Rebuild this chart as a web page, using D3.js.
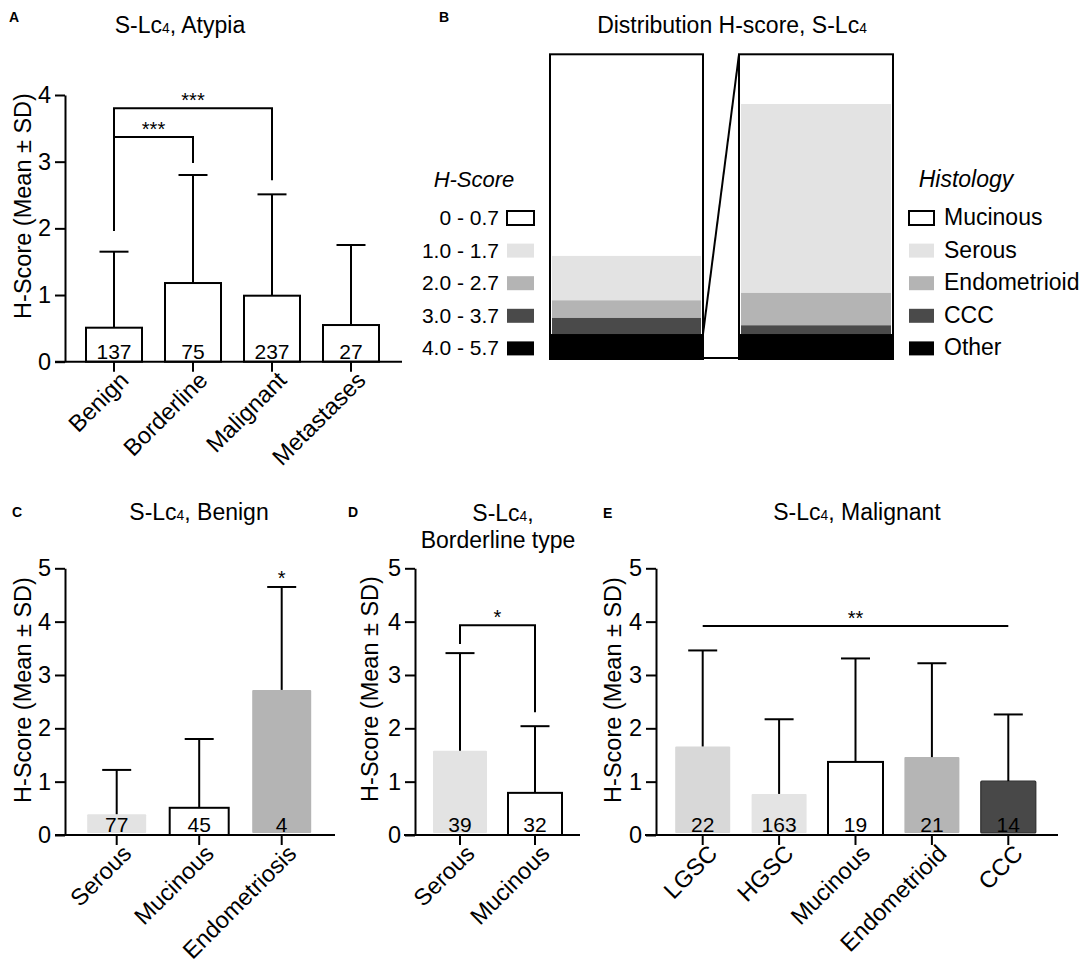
<!DOCTYPE html>
<html>
<head>
<meta charset="utf-8">
<script src="https://cdn.jsdelivr.net/npm/d3@7"></script>
<style>
  html, body { margin: 0; padding: 0; background: #fff; }
  svg text { font-family: "Liberation Sans", Arial, Helvetica, sans-serif; fill: #000; }
</style>
</head>
<body>
<script>
// ---------------- DATA ----------------
// Panel A: S-Lc4, Atypia
const aCategories = ["Benign", "Borderline", "Malignant", "Metastases"];
const aMeans = [0.51, 1.18, 0.99, 0.55];
const aSD = [1.14, 1.62, 1.52, 1.20];
const aN = [137, 75, 237, 27];
const aTicks = [0, 1, 2, 3, 4];
const aSig = [
  { from: "Benign", to: "Borderline", level: 3.37, legFrom: 3.37, legTo: 2.98, label: "***" },
  { from: "Benign", to: "Malignant", level: 3.80, legFrom: 1.96, legTo: 2.72, label: "***" }
];

// Panel B: Distribution H-score, S-Lc4 (percent of cases)
const bHScoreLabels = ["0 - 0.7", "1.0 - 1.7", "2.0 - 2.7", "3.0 - 3.7", "4.0 - 5.7"];
const bHScorePct = [66.1, 14.6, 5.7, 5.4, 8.2];
const bHistologyLabels = ["Mucinous", "Serous", "Endometrioid", "CCC", "Other"];
const bHistologyPct = [16.3, 61.9, 10.7, 2.9, 8.2];

// Panel C: S-Lc4, Benign
const cCategories = ["Serous", "Mucinous", "Endometriosis"];
const cMeans = [0.39, 0.51, 2.72];
const cSD = [0.83, 1.29, 1.93];
const cN = [77, 45, 4];
const cSig = [{ at: "Endometriosis", label: "*" }];

// Panel D: S-Lc4, Borderline type
const dCategories = ["Serous", "Mucinous"];
const dMeans = [1.58, 0.79];
const dSD = [1.83, 1.25];
const dN = [39, 32];
const dSig = [{ from: "Serous", to: "Mucinous", level: 3.93, legFrom: 3.58, legTo: 2.30, label: "*" }];

// Panel E: S-Lc4, Malignant
const eCategories = ["LGSC", "HGSC", "Mucinous", "Endometrioid", "CCC"];
const eMeans = [1.66, 0.77, 1.37, 1.46, 1.01];
const eSD = [1.80, 1.40, 1.94, 1.76, 1.25];
const eN = [22, 163, 19, 21, 14];
const eSig = [{ from: "LGSC", to: "CCC", level: 3.92, label: "**" }];

const yTicks5 = [0, 1, 2, 3, 4, 5];

// ---------------- STYLES ----------------
const fillOf = d3.scaleOrdinal()
  .domain(["Benign", "Borderline", "Malignant", "Metastases", "Serous", "Mucinous",
           "Endometriosis", "LGSC", "HGSC", "Endometrioid", "CCC"])
  .range(["#ffffff", "#ffffff", "#ffffff", "#ffffff", "#e3e3e3", "#ffffff",
          "#b4b4b4", "#d8d8d8", "#e4e4e4", "#b5b5b5", "#484848"]);
const outlined = new Set(["Benign", "Borderline", "Malignant", "Metastases", "Mucinous"]);
const hScoreFill = d3.scaleOrdinal().domain(bHScoreLabels)
  .range(["#ffffff", "#e3e3e3", "#b4b4b4", "#4a4a4a", "#000000"]);
const histFill = d3.scaleOrdinal().domain(bHistologyLabels)
  .range(["#ffffff", "#e3e3e3", "#b4b4b4", "#4a4a4a", "#000000"]);

const SW = 2;          // stroke width
const TICK_FONT = 23.5;
const YLABEL_FONT = 23.5;
const XLABEL_FONT = 23.5;
const N_FONT = 21;
const TITLE_FONT = 23;

const svg = d3.select("body").append("svg")
  .attr("width", 1084).attr("height", 963);

function subTitle(g, x, y, rest, anchor) {
  const t = g.append("text").attr("x", x).attr("y", y)
    .attr("text-anchor", anchor || "middle").attr("font-size", TITLE_FONT);
  t.append("tspan").text("S-Lc");
  t.append("tspan").attr("font-size", TITLE_FONT * 0.6).text("4");
  if (rest) t.append("tspan").text(rest);
  return t;
}

function panelLetter(x, y, s) {
  svg.append("text").attr("x", x).attr("y", y).attr("font-size", 14)
    .attr("font-weight", "bold").text(s);
}

function barPanel(o) {
  const g = svg.append("g");
  const y = d3.scaleLinear().domain([0, o.yMax]).range([o.yBottom, o.yTop]);
  const x = d3.scalePoint().domain(o.cats).range([o.c0, o.c1]);
  const base = y(0);

  // y axis
  const yAxis = d3.axisLeft(y).tickValues(o.ticks).tickFormat(d3.format("d"))
    .tickSize(10).tickSizeOuter(0).tickPadding(4);
  const ya = g.append("g").attr("transform", `translate(${o.axisX},0)`).call(yAxis);
  ya.selectAll("path,line").attr("stroke", "#000").attr("stroke-width", SW);
  ya.selectAll("text").attr("font-size", TICK_FONT)
    .attr("font-family", '"Liberation Sans", Arial, sans-serif').attr("fill", "#000");

  // bars
  o.cats.forEach((c, i) => {
    const m = o.means[i], sd = o.sds[i], cx = x(c);
    if (outlined.has(c)) {
      g.append("rect").attr("x", cx - o.barW / 2).attr("y", y(m))
        .attr("width", o.barW).attr("height", base - y(m))
        .attr("fill", fillOf(c)).attr("stroke", "#000").attr("stroke-width", SW);
    } else {
      g.append("rect").attr("x", cx - o.barW / 2).attr("y", y(m))
        .attr("width", o.barW).attr("height", base - 2 - y(m)).attr("rx", 1)
        .attr("fill", fillOf(c))
        .attr("stroke", c === "CCC" ? "#2e2e2e" : "none").attr("stroke-width", 1.2);
    }
    // error bar (upper)
    g.append("line").attr("x1", cx).attr("x2", cx).attr("y1", y(m)).attr("y2", y(m + sd))
      .attr("stroke", "#000").attr("stroke-width", SW);
    g.append("line").attr("x1", cx - 14.5).attr("x2", cx + 14.5)
      .attr("y1", y(m + sd)).attr("y2", y(m + sd))
      .attr("stroke", "#000").attr("stroke-width", SW);
    // n label
    g.append("text").attr("x", cx).attr("y", base - 3).attr("text-anchor", "middle")
      .attr("font-size", N_FONT).text(o.ns[i]);
  });

  // x axis line + ticks
  g.append("line").attr("x1", o.xStart).attr("x2", o.xEnd).attr("y1", base).attr("y2", base)
    .attr("stroke", "#000").attr("stroke-width", SW);
  o.cats.forEach(c => {
    g.append("line").attr("x1", x(c)).attr("x2", x(c)).attr("y1", base).attr("y2", base + 10)
      .attr("stroke", "#000").attr("stroke-width", SW);
    g.append("text")
      .attr("transform", `translate(${x(c) + 16},${base + 20}) rotate(-45)`)
      .attr("text-anchor", "end").attr("font-size", XLABEL_FONT).text(c);
  });

  // y label
  g.append("text")
    .attr("transform", `translate(${o.yLabelX},${o.yLabelY}) rotate(-90)`)
    .attr("text-anchor", "middle").attr("font-size", YLABEL_FONT)
    .text("H-Score (Mean \u00b1 SD)");

  // significance
  (o.sig || []).forEach(s => {
    if (s.at) {
      const k = o.cats.indexOf(s.at);
      g.append("text").attr("x", x(s.at)).attr("y", y(o.means[k] + o.sds[k]) - 2)
        .attr("text-anchor", "middle").attr("font-size", 20).text(s.label);
      return;
    }
    const x1 = x(s.from), x2 = x(s.to), ly = y(s.level);
    const pts = s.legFrom !== undefined
      ? [[x1, y(s.legFrom)], [x1, ly], [x2, ly], [x2, y(s.legTo)]]
      : [[x1, ly], [x2, ly]];
    g.append("path").attr("d", d3.line()(pts)).attr("fill", "none")
      .attr("stroke", "#000").attr("stroke-width", SW);
    g.append("text").attr("x", (x1 + x2) / 2).attr("y", ly - 1)
      .attr("text-anchor", "middle").attr("font-size", 20).text(s.label);
  });
  return g;
}

// ---------------- PANEL A ----------------
panelLetter(9, 22, "A");
subTitle(svg, 180, 33, ", Atypia");
barPanel({
  cats: aCategories, means: aMeans, sds: aSD, ns: aN, ticks: aTicks, yMax: 4,
  yBottom: 361.7, yTop: 95, axisX: 65, c0: 114, c1: 351, barW: 56,
  xStart: 55, xEnd: 402, yLabelX: 31, yLabelY: 206, sig: aSig
});

// ---------------- PANEL B ----------------
panelLetter(439, 22, "B");
(function () {
  const g = svg.append("g");
  g.append("text").attr("x", 732).attr("y", 33).attr("text-anchor", "middle")
    .attr("font-size", TITLE_FONT)
    .call(t => {
      t.append("tspan").text("Distribution H-score, S-Lc");
      t.append("tspan").attr("font-size", TITLE_FONT * 0.6).text("4");
    });
  const y = d3.scaleLinear().domain([0, 100]).range([359, 54.3]);
  const left = { x0: 550, x1: 703 }, right = { x0: 739, x1: 893 };

  function stackBar(box, labels, pct, fill) {
    // stack from the bottom: last label at the bottom
    let acc = 0;
    const segs = labels.map((l, i) => ({ l, v: pct[i] })).reverse().map(s => {
      const r = { l: s.l, y0: acc, y1: acc + s.v }; acc += s.v; return r;
    });
    segs.forEach(s => {
      const inset = s.l === labels[labels.length - 1] ? 0 : 2;
      g.append("rect").attr("x", box.x0 + inset).attr("width", box.x1 - box.x0 - 2 * inset)
        .attr("y", y(s.y1)).attr("height", y(s.y0) - y(s.y1)).attr("fill", fill(s.l));
    });
    g.append("rect").attr("x", box.x0).attr("y", y(100)).attr("width", box.x1 - box.x0)
      .attr("height", y(0) - y(100)).attr("fill", "none")
      .attr("stroke", "#000").attr("stroke-width", SW);
    return segs;
  }
  const lSegs = stackBar(left, bHScoreLabels, bHScorePct, hScoreFill);
  stackBar(right, bHistologyLabels, bHistologyPct, histFill);

  // connector from the 4.0-5.7 segment to the histology bar
  const top = lSegs[0].y1;
  g.append("line").attr("x1", left.x1).attr("y1", y(top)).attr("x2", right.x0).attr("y2", y(100))
    .attr("stroke", "#000").attr("stroke-width", SW);
  g.append("line").attr("x1", left.x1).attr("y1", y(0) - 1).attr("x2", right.x0).attr("y2", y(0) - 1)
    .attr("stroke", "#000").attr("stroke-width", SW);

  // legends
  const baselines = bHScoreLabels.map((_, i) => 225 + i * 32.6);
  g.append("text").attr("x", 474).attr("y", 187).attr("text-anchor", "middle")
    .attr("font-size", 22).attr("font-style", "italic").text("H-Score");
  bHScoreLabels.forEach((l, i) => {
    g.append("text").attr("x", 499).attr("y", baselines[i]).attr("text-anchor", "end")
      .attr("font-size", 21).text(l);
    g.append("rect").attr("x", 507).attr("y", baselines[i] - 14).attr("width", 27).attr("height", 14)
      .attr("fill", hScoreFill(l)).attr("stroke", i === 0 ? "#000" : "none").attr("stroke-width", SW);
  });
  g.append("text").attr("x", 966).attr("y", 187).attr("text-anchor", "middle")
    .attr("font-size", 23).attr("font-style", "italic").text("Histology");
  bHistologyLabels.forEach((l, i) => {
    g.append("rect").attr("x", 909).attr("y", baselines[i] - 14).attr("width", 25).attr("height", 14)
      .attr("fill", histFill(l)).attr("stroke", i === 0 ? "#000" : "none").attr("stroke-width", SW);
    g.append("text").attr("x", 944).attr("y", baselines[i]).attr("font-size", 23).text(l);
  });
})();

// ---------------- PANEL C ----------------
panelLetter(12, 517, "C");
subTitle(svg, 199, 520, ", Benign");
barPanel({
  cats: cCategories, means: cMeans, sds: cSD, ns: cN, ticks: yTicks5, yMax: 5,
  yBottom: 835, yTop: 568.3, axisX: 65, c0: 116.7, c1: 281.7, barW: 59,
  xStart: 55, xEnd: 335, yLabelX: 31, yLabelY: 690, sig: cSig
});

// ---------------- PANEL D ----------------
panelLetter(348, 517, "D");
(function () {
  subTitle(svg, 503, 521, ",");
  svg.append("text").attr("x", 498).attr("y", 548).attr("text-anchor", "middle")
    .attr("font-size", TITLE_FONT).text("Borderline type");
})();
barPanel({
  cats: dCategories, means: dMeans, sds: dSD, ns: dN, ticks: yTicks5, yMax: 5,
  yBottom: 835, yTop: 568.3, axisX: 415, c0: 460, c1: 535, barW: 54,
  xStart: 404, xEnd: 580, yLabelX: 378, yLabelY: 689, sig: dSig
});

// ---------------- PANEL E ----------------
panelLetter(603, 518, "E");
subTitle(svg, 857, 520, ", Malignant");
barPanel({
  cats: eCategories, means: eMeans, sds: eSD, ns: eN, ticks: yTicks5, yMax: 5,
  yBottom: 835, yTop: 568.3, axisX: 656, c0: 702.7, c1: 1008.3, barW: 55,
  xStart: 645, xEnd: 1058, yLabelX: 621, yLabelY: 690, sig: eSig
});
</script>
</body>
</html>
